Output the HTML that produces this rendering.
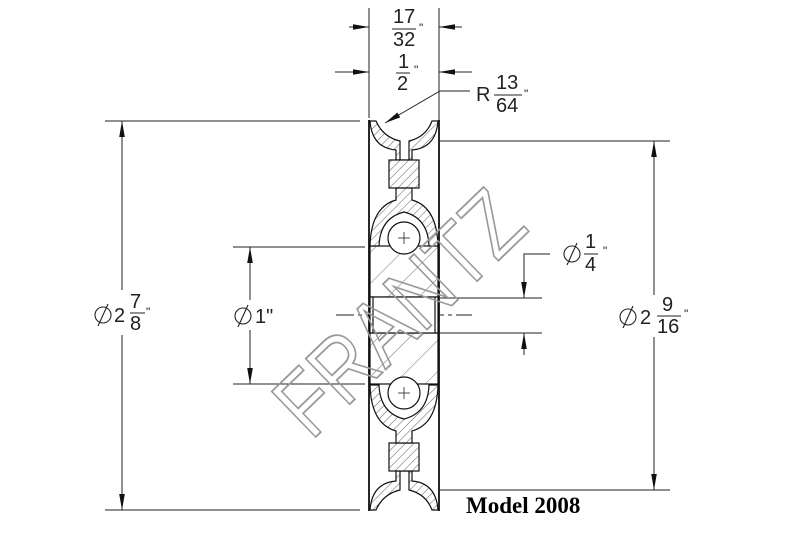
<!DOCTYPE html>
<html><head><meta charset="utf-8"><style>
html,body{margin:0;padding:0;background:#fff;}
svg{display:block;}
text{font-family:"Liberation Sans",sans-serif;fill:#222;}
</style></head><body>
<svg width="809" height="542" viewBox="0 0 809 542" xmlns="http://www.w3.org/2000/svg">
<defs>
<pattern id="h" width="6" height="6" patternUnits="userSpaceOnUse" patternTransform="rotate(45)">
<rect width="6" height="6" fill="#fff"/><line x1="0" y1="0" x2="0" y2="6" stroke="#333" stroke-width="0.8"/></pattern>
<pattern id="h2" width="22" height="22" patternUnits="userSpaceOnUse" patternTransform="rotate(-45)">
<rect width="22" height="22" fill="#fff"/><line x1="0" y1="0" x2="22" y2="0" stroke="#444" stroke-width="0.8"/></pattern>
<marker id="a" viewBox="0 0 10 10" refX="10" refY="5" markerWidth="16" markerHeight="7" markerUnits="userSpaceOnUse" orient="auto" preserveAspectRatio="none"><path d="M0,1 L10,5 L0,9z" fill="#111"/></marker>
<g id="dia"><circle cx="0" cy="0" r="8" fill="none" stroke="#222" stroke-width="1.1"/><line x1="-5" y1="11" x2="5" y2="-11" stroke="#222" stroke-width="1.1"/></g>
</defs>
<g stroke="#222" stroke-width="1" fill="none">
<line x1="369" y1="8" x2="369" y2="118"/><line x1="439" y1="8" x2="439" y2="140"/>
<line x1="349" y1="27" x2="369" y2="27" marker-end="url(#a)"/><line x1="462" y1="27" x2="439" y2="27" marker-end="url(#a)"/>
<line x1="335" y1="72" x2="369" y2="72" marker-end="url(#a)"/><line x1="472" y1="72" x2="439" y2="72" marker-end="url(#a)"/>
<polyline points="470,91 440,91 385,123" marker-end="url(#a)"/>
<line x1="105" y1="121" x2="360" y2="121"/><line x1="105" y1="510" x2="360" y2="510"/>
<line x1="122" y1="290" x2="122" y2="121" marker-end="url(#a)"/><line x1="122" y1="335" x2="122" y2="510" marker-end="url(#a)"/>
<line x1="233" y1="247" x2="365" y2="247"/><line x1="233" y1="384" x2="365" y2="384"/>
<line x1="250" y1="300" x2="250" y2="247" marker-end="url(#a)"/><line x1="250" y1="330" x2="250" y2="384" marker-end="url(#a)"/>
<line x1="440" y1="141" x2="670" y2="141"/><line x1="440" y1="490" x2="670" y2="490"/>
<line x1="654" y1="295" x2="654" y2="141" marker-end="url(#a)"/><line x1="654" y1="337" x2="654" y2="490" marker-end="url(#a)"/>
<line x1="440" y1="298" x2="542" y2="298"/><line x1="440" y1="333" x2="542" y2="333"/>
<polyline points="550,254 524,254 524,298" marker-end="url(#a)"/>
<line x1="524" y1="355" x2="524" y2="333" marker-end="url(#a)"/>
<line x1="336" y1="315" x2="472" y2="315" stroke-dasharray="18,4,4,4"/>
</g>
<g stroke="#111" stroke-width="1.2">
<line x1="369" y1="120" x2="369" y2="511" stroke-width="1.8"/>
<line x1="439" y1="120" x2="439" y2="511" stroke-width="1.8"/>
<rect x="370" y="246" width="68" height="51" fill="url(#h2)"/>
<rect x="370" y="333" width="68" height="51" fill="url(#h2)"/>
<rect x="370" y="297" width="68" height="36" fill="#fff"/>
<line x1="373" y1="297" x2="373" y2="333"/><line x1="435" y1="297" x2="435" y2="333"/>
<path d="M370,121 L376,121 Q383,137 400,141 L400,160 L409,160 L409,141 Q426,137 432,121 L438,121 Q436,148 412,150 L412,160 L396,160 L396,150 Q372,148 370,121Z" fill="url(#h)"/>
<rect x="389" y="160" width="30" height="28" fill="url(#h)"/>
<path d="M396,188 L412,188 L412,200 Q437,207 438,246 L429,246 Q428,218 404,212 Q380,218 379,246 L370,246 Q371,207 396,200Z" fill="url(#h)"/>
<circle cx="404" cy="238" r="16" fill="#fff"/>
<path d="M370,510 L376,510 Q383,494 400,490 L400,471 L409,471 L409,490 Q426,494 432,510 L438,510 Q436,483 412,481 L412,471 L396,471 L396,481 Q372,483 370,510Z" fill="url(#h)"/>
<rect x="389" y="443" width="30" height="28" fill="url(#h)"/>
<path d="M396,443 L412,443 L412,431 Q437,424 438,385 L429,385 Q428,413 404,419 Q380,413 379,385 L370,385 Q371,424 396,431Z" fill="url(#h)"/>
<circle cx="404" cy="393" r="16" fill="#fff"/>
</g>
<g stroke="#222" stroke-width="0.8">
<line x1="398" y1="238" x2="410" y2="238"/><line x1="404" y1="232" x2="404" y2="244"/>
<line x1="398" y1="393" x2="410" y2="393"/><line x1="404" y1="387" x2="404" y2="399"/>
</g>
<text x="0" y="0" transform="translate(404,318) rotate(-44)" text-anchor="middle" dominant-baseline="middle" font-size="92" textLength="305" lengthAdjust="spacingAndGlyphs" style="fill:none;stroke:#999;stroke-width:1.8">FRANTZ</text>
<g font-size="20">
<text x="393" y="23">17</text><line x1="392" y1="29" x2="416" y2="29" stroke="#222"/><text x="393" y="46">32</text><text x="419" y="32" font-size="12">"</text>
<text x="398" y="68">1</text><line x1="396" y1="73" x2="410" y2="73" stroke="#222"/><text x="397" y="90">2</text><text x="414" y="74" font-size="12">"</text>
<text x="476" y="101">R</text><text x="496" y="89">13</text><line x1="494" y1="95" x2="522" y2="95" stroke="#222"/><text x="496" y="112">64</text><text x="524" y="98" font-size="12">"</text>
<use href="#dia" x="103" y="315"/><text x="114" y="322">2</text><text x="130" y="308">7</text><line x1="130" y1="313" x2="145" y2="313" stroke="#222"/><text x="130" y="330">8</text><text x="146" y="316" font-size="12">"</text>
<use href="#dia" x="243" y="316"/><text x="255" y="323">1"</text>
<use href="#dia" x="572" y="254"/><text x="585" y="248">1</text><line x1="584" y1="254" x2="598" y2="254" stroke="#222"/><text x="585" y="271">4</text><text x="603" y="255" font-size="12">"</text>
<use href="#dia" x="628" y="317"/><text x="640" y="324">2</text><text x="662" y="311">9</text><line x1="657" y1="316" x2="681" y2="316" stroke="#222"/><text x="657" y="333">16</text><text x="684" y="318" font-size="12">"</text>
</g>
<text x="466" y="513" style="font-family:'Liberation Serif',serif;font-weight:bold;font-size:23px;fill:#000">Model 2008</text>
</svg>
</body></html>
